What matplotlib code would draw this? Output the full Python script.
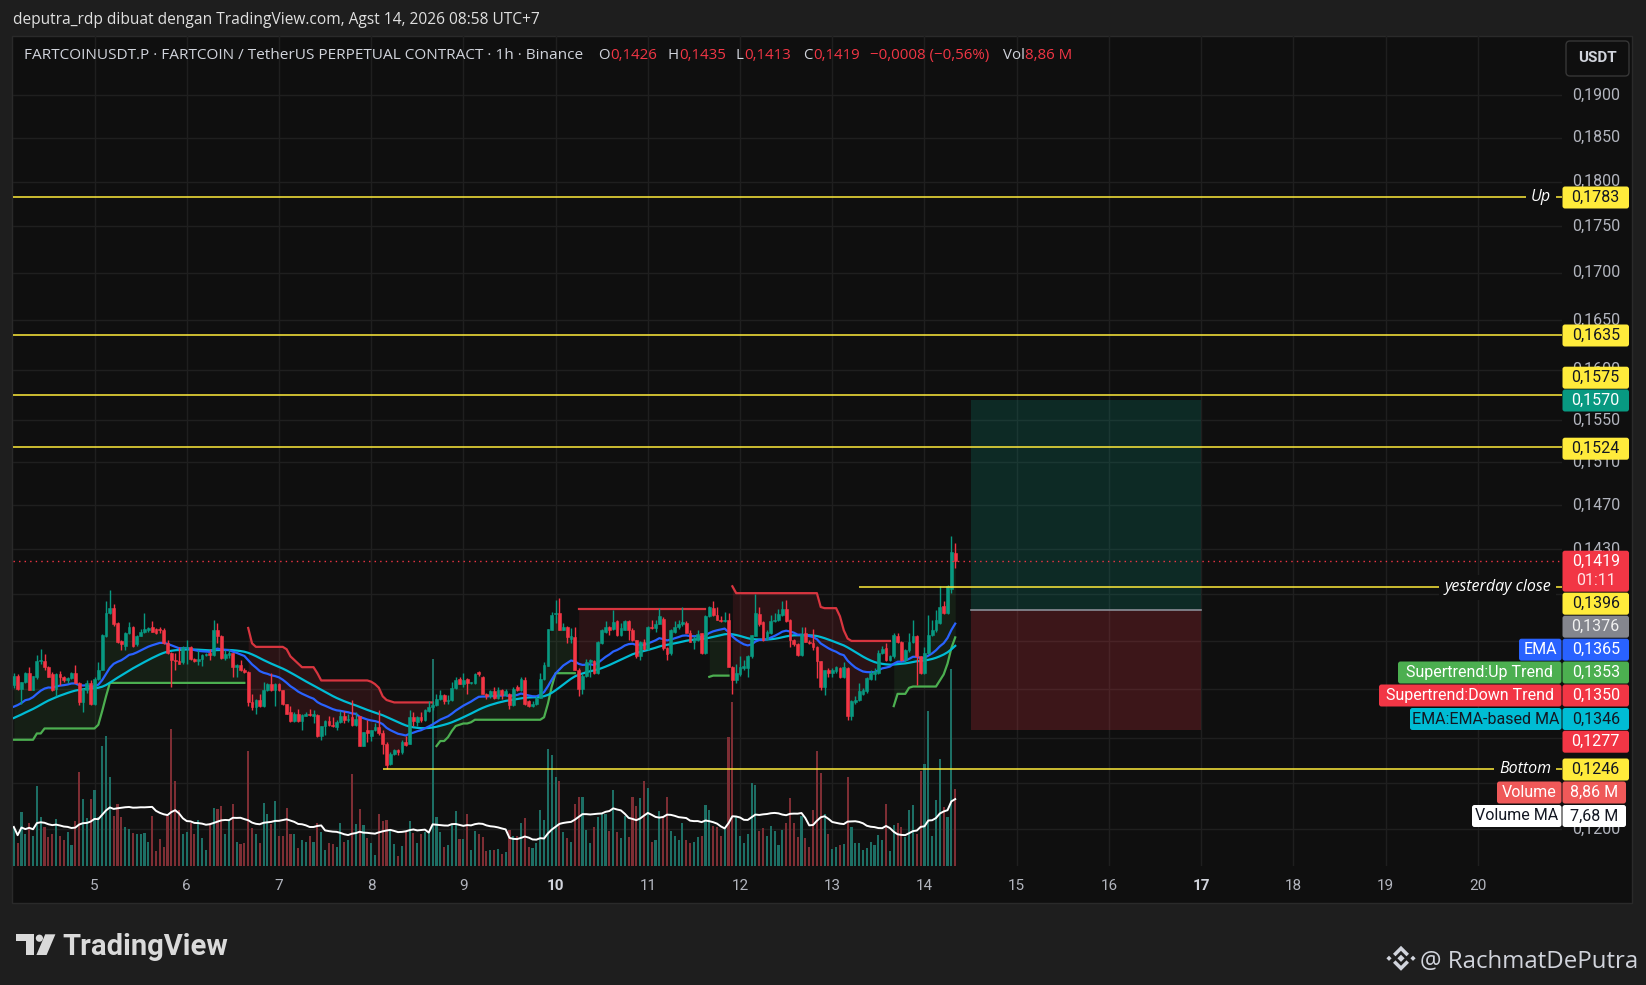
import numpy as np
import pandas as pd
import matplotlib
matplotlib.use("Agg")
import matplotlib.pyplot as plt
from matplotlib.patches import Rectangle, FancyBboxPatch, Polygon, Circle
from matplotlib.transforms import blended_transform_factory as blend

plt.rcParams['font.family'] = ['Roboto', 'DejaVu Sans']

# ---------------- data (1h bars, hours counted from Aug 5 00:00 UTC+7) ----------------
HOUR_START = -21
opens = [
    .1313, .1321, .1310, .1316, .1323, .1309, .1320, .1333, .1333, .1328, .1322, .1310,
    .1322, .1320, .1317, .1319, .1323, .1315, .1299, .1309, .1315, .1298, .1318, .1326,
    .1354, .1374, .1378, .1365, .1350, .1346, .1357, .1362, .1347, .1354, .1358, .1359,
    .1362, .1360, .1360, .1359, .1348, .1340, .1334, .1333, .1332, .1344, .1345, .1335,
    .1333, .1335, .1338, .1340, .1338, .1359, .1354, .1336, .1338, .1340, .1328, .1330,
    .1326, .1324, .1299, .1295, .1301, .1296, .1309, .1314, .1309, .1314, .1309, .1298,
    .1291, .1284, .1290, .1284, .1288, .1290, .1288, .1289, .1272, .1280, .1284, .1281,
    .1279, .1283, .1288, .1285, .1287, .1281, .1288, .1264, .1277, .1272, .1277, .1279,
    .1274, .1266, .1250, .1258, .1261, .1259, .1267, .1266, .1287, .1283, .1287, .1285,
    .1292, .1295, .1297, .1302, .1305, .1300, .1301, .1311, .1318, .1314, .1318, .1315,
    .1315, .1324, .1320, .1306, .1304, .1308, .1303, .1309, .1305, .1306, .1297, .1312,
    .1309, .1317, .1300, .1296, .1298, .1303, .1318, .1329, .1359, .1373, .1374, .1359,
    .1362, .1352, .1353, .1326, .1310, .1321, .1332, .1333, .1323, .1348, .1358, .1362,
    .1360, .1367, .1355, .1359, .1367, .1359, .1351, .1337, .1349, .1343, .1362, .1361,
    .1364, .1369, .1344, .1340, .1358, .1362, .1364, .1365, .1357, .1349, .1351, .1357,
    .1340, .1371, .1378, .1372, .1368, .1367, .1368, .1328, .1317, .1322, .1327, .1327,
    .1337, .1354, .1373, .1366, .1352, .1357, .1367, .1368, .1372, .1377, .1368, .1351,
    .1347, .1338, .1357, .1349, .1348, .1345, .1333, .1312, .1326, .1323, .1325, .1327,
    .1320, .1327, .1288, .1299, .1301, .1306, .1308, .1318, .1322, .1323, .1340, .1344,
    .1334, .1337, .1354, .1349, .1334, .1342, .1349, .1354, .1337, .1323, .1340, .1355,
    .1359, .1365, .1380, .1374, .1395, .1426,
]
highs = [
    .1323, .1322, .1316, .1324, .1328, .1321, .1338, .1343, .1339, .1329, .1324, .1323,
    .1325, .1321, .1320, .1324, .1330, .1316, .1311, .1317, .1317, .1320, .1332, .1356,
    .1384, .1394, .1382, .1366, .1351, .1358, .1366, .1363, .1355, .1360, .1374, .1362,
    .1367, .1361, .1362, .1361, .1351, .1341, .1340, .1345, .1346, .1351, .1346, .1336,
    .1342, .1339, .1340, .1343, .1368, .1365, .1355, .1342, .1343, .1340, .1331, .1334,
    .1327, .1325, .1306, .1302, .1306, .1316, .1315, .1323, .1315, .1315, .1309, .1298,
    .1296, .1291, .1294, .1290, .1291, .1294, .1293, .1290, .1280, .1285, .1288, .1287,
    .1285, .1292, .1292, .1290, .1301, .1291, .1288, .1275, .1285, .1277, .1282, .1293,
    .1277, .1267, .1259, .1262, .1262, .1269, .1272, .1293, .1291, .1288, .1291, .1294,
    .1300, .1300, .1306, .1309, .1306, .1305, .1316, .1320, .1320, .1323, .1319, .1316,
    .1323, .1325, .1321, .1307, .1309, .1312, .1312, .1310, .1310, .1307, .1312, .1313,
    .1320, .1320, .1301, .1300, .1304, .1323, .1332, .1360, .1375, .1385, .1387, .1365,
    .1363, .1361, .1362, .1327, .1322, .1335, .1335, .1334, .1350, .1360, .1367, .1363,
    .1376, .1368, .1365, .1368, .1368, .1361, .1351, .1350, .1352, .1363, .1368, .1368,
    .1378, .1370, .1345, .1360, .1367, .1368, .1379, .1367, .1359, .1354, .1359, .1357,
    .1372, .1380, .1384, .1379, .1371, .1375, .1374, .1329, .1331, .1337, .1334, .1338,
    .1355, .1390, .1379, .1367, .1359, .1372, .1374, .1377, .1384, .1385, .1369, .1352,
    .1348, .1362, .1362, .1351, .1360, .1346, .1333, .1326, .1327, .1327, .1329, .1328,
    .1332, .1328, .1301, .1304, .1315, .1311, .1320, .1326, .1327, .1342, .1346, .1348,
    .1338, .1357, .1357, .1350, .1343, .1357, .1368, .1355, .1337, .1345, .1372, .1368,
    .1376, .1397, .1384, .1398, .1442, .1435,
]
lows = [
    .1311, .1309, .1298, .1315, .1309, .1309, .1318, .1331, .1326, .1320, .1308, .1304,
    .1313, .1316, .1315, .1318, .1315, .1297, .1291, .1307, .1297, .1297, .1317, .1326,
    .1353, .1373, .1363, .1348, .1342, .1342, .1356, .1345, .1346, .1354, .1357, .1358,
    .1358, .1356, .1357, .1347, .1339, .1312, .1326, .1331, .1331, .1331, .1334, .1332,
    .1330, .1329, .1337, .1334, .1337, .1348, .1335, .1334, .1336, .1320, .1320, .1325,
    .1323, .1296, .1293, .1290, .1295, .1295, .1308, .1308, .1296, .1308, .1297, .1290,
    .1283, .1283, .1283, .1277, .1288, .1288, .1282, .1271, .1269, .1273, .1280, .1279,
    .1277, .1282, .1282, .1283, .1280, .1280, .1264, .1264, .1267, .1268, .1276, .1273,
    .1258, .1246, .1249, .1257, .1257, .1258, .1264, .1266, .1280, .1280, .1283, .1284,
    .1291, .1293, .1296, .1301, .1298, .1298, .1300, .1310, .1314, .1312, .1306, .1314,
    .1314, .1321, .1306, .1302, .1303, .1302, .1302, .1302, .1304, .1294, .1296, .1308,
    .1308, .1297, .1295, .1295, .1297, .1303, .1317, .1329, .1359, .1365, .1359, .1359,
    .1348, .1348, .1326, .1304, .1306, .1320, .1320, .1322, .1322, .1347, .1357, .1355,
    .1359, .1354, .1354, .1359, .1351, .1350, .1336, .1334, .1342, .1342, .1360, .1358,
    .1364, .1342, .1334, .1338, .1357, .1360, .1363, .1357, .1349, .1343, .1350, .1339,
    .1339, .1370, .1371, .1368, .1366, .1366, .1328, .1306, .1315, .1321, .1326, .1320,
    .1336, .1354, .1363, .1350, .1351, .1356, .1366, .1367, .1371, .1366, .1345, .1346,
    .1337, .1337, .1349, .1347, .1342, .1319, .1309, .1305, .1320, .1320, .1323, .1319,
    .1319, .1285, .1285, .1298, .1300, .1305, .1307, .1317, .1317, .1322, .1339, .1333,
    .1333, .1336, .1348, .1333, .1332, .1341, .1348, .1313, .1322, .1322, .1339, .1354,
    .1358, .1364, .1373, .1373, .1391, .1413,
]
closes = [
    .1321, .1310, .1316, .1323, .1309, .1321, .1333, .1334, .1328, .1320, .1309, .1322,
    .1320, .1317, .1319, .1323, .1315, .1299, .1310, .1315, .1298, .1318, .1326, .1355,
    .1374, .1378, .1364, .1349, .1347, .1357, .1362, .1346, .1354, .1358, .1360, .1361,
    .1358, .1357, .1359, .1348, .1340, .1334, .1333, .1331, .1345, .1345, .1335, .1333,
    .1335, .1338, .1339, .1338, .1359, .1354, .1336, .1339, .1340, .1328, .1330, .1326,
    .1324, .1299, .1295, .1301, .1296, .1309, .1314, .1309, .1314, .1309, .1298, .1290,
    .1284, .1290, .1284, .1289, .1290, .1289, .1290, .1272, .1280, .1284, .1281, .1280,
    .1283, .1288, .1285, .1286, .1281, .1286, .1264, .1275, .1274, .1277, .1279, .1274,
    .1266, .1249, .1258, .1261, .1259, .1267, .1265, .1287, .1284, .1287, .1285, .1293,
    .1295, .1297, .1302, .1305, .1300, .1301, .1311, .1317, .1314, .1317, .1315, .1316,
    .1322, .1322, .1306, .1304, .1308, .1303, .1309, .1305, .1308, .1297, .1310, .1309,
    .1318, .1298, .1296, .1298, .1303, .1318, .1330, .1360, .1372, .1374, .1359, .1362,
    .1353, .1354, .1326, .1310, .1321, .1332, .1334, .1323, .1349, .1359, .1362, .1359,
    .1366, .1355, .1361, .1367, .1359, .1351, .1337, .1349, .1343, .1362, .1361, .1364,
    .1371, .1344, .1339, .1359, .1362, .1364, .1366, .1357, .1349, .1352, .1356, .1340,
    .1371, .1379, .1372, .1368, .1367, .1368, .1328, .1317, .1323, .1328, .1329, .1337,
    .1355, .1374, .1364, .1351, .1358, .1367, .1368, .1373, .1377, .1367, .1351, .1347,
    .1338, .1356, .1349, .1348, .1345, .1333, .1312, .1326, .1323, .1326, .1328, .1320,
    .1328, .1288, .1300, .1301, .1308, .1309, .1319, .1323, .1325, .1340, .1343, .1334,
    .1337, .1355, .1349, .1334, .1342, .1349, .1354, .1337, .1323, .1340, .1355, .1359,
    .1368, .1379, .1374, .1397, .1427, .1419,
]
volumes_m = [
    4.5, 2.6, 6.2, 3.7, 5.0, 3.4, 9.2, 5.7, 4.5, 3.3, 3.7, 5.4,
    3.5, 3.0, 3.9, 2.4, 5.2, 10.8, 7.7, 5.5, 7.7, 8.7, 5.7, 13.8,
    15.0, 10.2, 5.8, 7.2, 5.7, 4.5, 4.3, 3.8, 3.7, 3.7, 3.8, 2.8,
    5.8, 1.7, 3.1, 2.2, 5.8, 15.8, 9.8, 6.5, 3.7, 3.9, 5.0, 3.7,
    5.3, 3.2, 1.8, 4.9, 6.7, 6.6, 6.9, 3.7, 5.3, 7.2, 2.8, 2.5,
    2.7, 13.2, 4.4, 3.7, 2.7, 7.3, 6.0, 4.8, 7.5, 3.4, 3.5, 6.7,
    3.7, 3.7, 2.1, 3.0, 2.8, 3.4, 2.8, 4.9, 3.9, 1.8, 2.7, 2.5,
    2.2, 4.9, 2.8, 3.0, 10.6, 4.8, 6.6, 4.7, 3.2, 2.6, 1.3, 6.0,
    5.2, 5.3, 4.2, 2.5, 1.2, 2.3, 4.0, 5.2, 3.8, 2.7, 3.7, 3.9,
    3.8, 23.8, 5.7, 3.9, 2.2, 2.4, 4.7, 6.3, 3.1, 3.1, 6.0, 1.8,
    4.0, 3.7, 3.3, 1.7, 1.8, 1.8, 2.0, 1.4, 1.6, 4.2, 3.5, 3.5,
    4.9, 5.5, 2.2, 2.1, 2.6, 6.5, 5.3, 13.5, 12.8, 10.3, 9.8, 3.9,
    3.2, 2.8, 7.1, 7.9, 7.9, 4.2, 2.7, 4.5, 5.7, 6.0, 6.0, 4.0,
    8.7, 3.9, 3.2, 5.8, 3.3, 7.9, 6.9, 7.8, 9.8, 9.0, 2.8, 3.0,
    6.3, 5.7, 8.0, 4.0, 3.5, 3.0, 4.9, 3.0, 2.7, 2.8, 3.3, 3.4,
    7.0, 6.4, 4.6, 4.5, 3.4, 4.3, 14.9, 18.9, 5.7, 3.5, 2.6, 3.7,
    9.6, 9.3, 4.0, 4.4, 3.5, 4.6, 4.0, 2.4, 4.2, 4.9, 7.8, 5.0,
    3.3, 5.8, 3.2, 2.2, 6.5, 13.2, 10.7, 6.0, 3.7, 2.0, 2.2, 2.4,
    2.5, 10.3, 4.5, 2.7, 2.6, 1.8, 2.1, 2.8, 2.4, 3.6, 3.0, 7.2,
    1.7, 4.7, 4.9, 4.5, 3.3, 6.4, 7.0, 3.7, 10.9, 11.7, 17.8, 3.4,
    7.6, 12.3, 6.8, 5.7, 22.7, 8.86,
]

# Supertrend: (direction, first hour, per-bar values)
supertrend_segments = [
    ('up', -21, [.1269] * 6 + [.1274] * 2 + [.1278] * 14 + [.1281, .1292, .1304] + [.1315] * 36),
    ('dn', 40, [.1361, .1348] + [.1345] * 8 + [.1343, .1337, .1334, .1331] + [.1328] * 4 + [.1323]
     + [.1317] * 13 + [.1316, .1314, .1311, .1304, .1301, .1300] + [.1299] * 11),
    ('up', 89, [.1264, .1268, .1268, .1271, .1276, .1280, .1281, .1282, .1282, .1283] + [.1285] * 18
     + [.1287, .1298, .1312] + [.1323] * 6),
    ('dn', 126, [.1377] * 34),
    ('up', 160, [.1320] + [.1321] * 5),
    ('dn', 166, [.1397] + [.1391] * 22 + [.1379] + [.1378] * 4 + [.1371, .1359, .1352] + [.1350] * 11),
    ('up', 208, [.1296, .1306, .1306, .1306, .1311] + [.1312] * 7 + [.1317, .1322, .1331, .1344, .1353]),
]

day_numbers = list(range(5, 21))
bold_days = [10, 17]
grid_prices = [0.1900, 0.1850, 0.1800, 0.1750, 0.1700, 0.1650, 0.1600, 0.1550, 0.1510,
               0.1470, 0.1430, 0.1390, 0.1350, 0.1310, 0.1270, 0.1235, 0.1200]
labelled_prices = [0.1900, 0.1850, 0.1800, 0.1750, 0.1700, 0.1650, 0.1600, 0.1550, 0.1510,
                   0.1470, 0.1430, 0.1200]

level_up = 0.1783
levels_plain = [0.1635, 0.1575, 0.1524]
yesterday_close = 0.1396
bottom_level = 0.1246
pos_entry, pos_target, pos_stop = 0.1376, 0.1570, 0.1277
pos_start_h, pos_end_h = 228, 288
ycl_start_h = 199
bottom_start_h = 75

EMA_LEN, EMA_MA_LEN = 21, 14
ema_seed, ema_ma_seed = 0.1293, 0.1285

indicator_tags = [("EMA", "0,1365"), ("Supertrend:Up Trend", "0,1353"),
                  ("Supertrend:Down Trend", "0,1350"), ("EMA:EMA-based MA", "0,1346")]
volume_ma_tag = "7,68 M"
countdown = "01:11"

# ---------------- series ----------------
o = np.array(opens); h = np.array(highs); l = np.array(lows); c = np.array(closes)
vol = np.array(volumes_m)
hours = np.arange(HOUR_START, HOUR_START + len(c))
assert len(o) == len(h) == len(l) == len(c) == len(vol)


def ema(values, length, seed):
    a = 2.0 / (length + 1)
    out, prev = [], seed
    for v in values:
        prev = prev + a * (v - prev)
        out.append(prev)
    return np.array(out)


ema_line = ema(c, EMA_LEN, ema_seed)
ema_ma = ema(ema_line, EMA_MA_LEN, ema_ma_seed)
vol_ma = pd.Series(vol).rolling(20, min_periods=1).mean().values
body_mid = (o + c) / 2

# ---------------- layout ----------------
W, H = 1646, 985
PX_L, PX_R, PX_T, PX_B = 13, 1562, 36, 866
X0_PX, PX_PER_H = 94.5, 3.8425
REF_Y, REF_P, PX_PER_LN = 549.0, 0.143, 1597.0
VOL_PX_PER_M = 8.68

BG_OUT, BG = '#1e1e1e', '#0f0f0f'
GRID = '#1f1f1f'
GREEN, RED = '#089981', '#f23645'
YEL = '#ffeb3b'
TXT = '#d1d4dc'
AXT = '#b2b5be'
DARK = '#131722'
HDR = ['Open Sans', 'DejaVu Sans']

fig = plt.figure(figsize=(W / 100, H / 100), dpi=100, facecolor=BG_OUT)


def pix_axes(z):
    a = fig.add_axes([0, 0, 1, 1], zorder=z)
    a.set_xlim(0, W); a.set_ylim(H, 0); a.axis('off')
    a.patch.set_visible(False)
    return a


bg = pix_axes(0)
bg.add_patch(Rectangle((12.5, 35.5), 1620, 867.5, facecolor=BG, edgecolor='#2a2a2a', lw=1))

rect = [PX_L / W, 1 - PX_B / H, (PX_R - PX_L) / W, (PX_B - PX_T) / H]
xlim = ((PX_L - X0_PX) / PX_PER_H, (PX_R - X0_PX) / PX_PER_H)
p_top = REF_P * np.exp((REF_Y - PX_T) / PX_PER_LN)
p_bot = REF_P * np.exp(-(PX_B - REF_Y) / PX_PER_LN)

vax = fig.add_axes(rect, zorder=1)
vax.set_xlim(*xlim); vax.set_ylim(0, (PX_B - PX_T) / VOL_PX_PER_M)
vax.axis('off'); vax.patch.set_visible(False)

ax = fig.add_axes(rect, zorder=2)
ax.set_yscale('log')
ax.set_xlim(*xlim); ax.set_ylim(p_bot, p_top)
ax.axis('off'); ax.patch.set_visible(False)

# grid
day_hours = [(d - 5) * 24 for d in day_numbers]
for dh in day_hours:
    vax.axvline(dh, color=GRID, lw=1, zorder=0)
gtr = blend(vax.transAxes, ax.transData)
for p in grid_prices:
    vax.plot([0, 1], [p, p], color=GRID, lw=1, transform=gtr, zorder=0)

# volume
up = c >= o
vcol = np.where(up, '#1d6f65', '#7e2e34')
vax.bar(hours, vol, width=0.55, color=vcol, zorder=1)
vax.plot(hours, vol_ma, color='white', lw=1.4, zorder=2)

# long position box
ax.add_patch(Rectangle((pos_start_h, pos_entry), pos_end_h - pos_start_h, pos_target - pos_entry,
                       facecolor=(8 / 255, 153 / 255, 129 / 255, 0.2), edgecolor='none', zorder=1))
ax.add_patch(Rectangle((pos_start_h, pos_stop), pos_end_h - pos_start_h, pos_entry - pos_stop,
                       facecolor=(242 / 255, 54 / 255, 69 / 255, 0.2), edgecolor='none', zorder=1))
ax.plot([pos_start_h, pos_end_h], [pos_entry, pos_entry], color='#8a8d96', lw=1.2, zorder=2)

# supertrend (lines + fill to candle body middle)
for direction, start, vals in supertrend_segments:
    seg_h = np.arange(start, start + len(vals))
    idx = seg_h - HOUR_START
    lc = '#4caf50' if direction == 'up' else '#d8353f'
    fc = '#4caf50' if direction == 'up' else RED
    ax.fill_between(seg_h, body_mid[idx], vals, color=fc, alpha=0.1 if direction == 'up' else 0.12,
                    lw=0, zorder=2)
    ax.plot(seg_h, vals, color=lc, lw=1.6, zorder=3)

# EMA
ax.plot(hours, ema_ma, color='#00bcd4', lw=1.6, zorder=4)
ax.plot(hours, ema_line, color='#2962ff', lw=1.6, zorder=4)

# candles
ccol = np.where(up, GREEN, RED)
ax.vlines(hours, l, h, colors=ccol, lw=1, zorder=5)
ax.bar(hours, np.abs(c - o), bottom=np.minimum(o, c), width=0.72, color=ccol,
       edgecolor=ccol, lw=0.4, zorder=6)

# levels
ax.axhline(level_up, color=YEL, lw=1.1, zorder=7)
for lv in levels_plain:
    ax.axhline(lv, color=YEL, lw=1.1, zorder=7)
ax.hlines(yesterday_close, ycl_start_h, xlim[1], color=YEL, lw=1.1, zorder=7)
ax.hlines(bottom_level, bottom_start_h, xlim[1], color=YEL, lw=1.1, zorder=7)
ax.axhline(c[-1], color=RED, lw=1, ls=(0, (1, 3)), zorder=7)

rtr = blend(ax.transAxes, ax.transData)
xr = (1551 - PX_L) / (PX_R - PX_L)
for lv, name in [(level_up, 'Up'), (yesterday_close, 'yesterday close'), (bottom_level, 'Bottom')]:
    ax.text(xr, lv, name, transform=rtr, ha='right', va='center', color='white', fontsize=11.5,
            style='italic', family=HDR, zorder=8,
            bbox=dict(boxstyle='square,pad=0.3', fc=BG, ec='none'))

# y tick labels
ytr = blend(fig.transFigure, ax.transData)
for p in labelled_prices:
    ax.text(1596 / W, p, f"{p:.4f}".replace('.', ','), transform=ytr, ha='center', va='center',
            color=AXT, fontsize=11.5, clip_on=False)

# x tick labels
xtr = blend(ax.transData, fig.transFigure)
for d, dh in zip(day_numbers, day_hours):
    b = d in bold_days
    ax.text(dh, 1 - 886 / H, str(d), transform=xtr, ha='center', va='center',
            color=TXT if b else AXT, fontsize=11, fontweight='bold' if b else 'normal', clip_on=False)

# ---------------- overlay: tags, header, footer ----------------
ov = pix_axes(3)


def box(x0, x1, y0, y1, fc, r=2.5):
    ov.add_patch(FancyBboxPatch((x0, y0), x1 - x0, y1 - y0,
                                boxstyle=f'round,pad=0,rounding_size={r}', fc=fc, ec='none'))


def fmt(p):
    return f"{p:.4f}".replace('.', ',')


def tag(yc, fc, txt, tc, x0=1562.5, x1=1629, hgt=22):
    box(x0, x1, yc - hgt / 2, yc + hgt / 2, fc)
    ov.text((x0 + x1) / 2, yc, txt, color=tc, fontsize=11.5, ha='center', va='center')


tag(197.5, YEL, fmt(level_up), DARK)
tag(335.5, YEL, fmt(levels_plain[0]), DARK)
tag(377.7, YEL, fmt(levels_plain[1]), DARK)
tag(400.5, GREEN, fmt(pos_target), 'white')
tag(448.7, YEL, fmt(levels_plain[2]), DARK)
box(1562.5, 1629, 550.7, 591.7, RED)
ov.text(1595.7, 561.3, fmt(c[-1]), color='white', fontsize=11.5, ha='center', va='center')
ov.text(1595.7, 580.5, countdown, color='#ffe3e5', fontsize=11.5, ha='center', va='center')
tag(603.7, YEL, fmt(yesterday_close), DARK)
tag(626.7, '#84868e', fmt(pos_entry), '#f0f0f0')
ind_style = [(649.7, '#2962ff', 'white', 1519), (672.5, '#4caf50', 'white', 1398),
             (695.5, RED, 'white', 1379), (719.0, '#00bcd4', DARK, 1410)]
for (name, val), (yc, fc, tc, xn) in zip(indicator_tags, ind_style):
    tag(yc, fc, name, tc, x0=xn, x1=1561.5)
    tag(yc, fc, val, tc)
tag(741.7, RED, fmt(pos_stop), 'white')
tag(769.5, YEL, fmt(bottom_level), DARK)
vol_txt = f"{vol[-1]:.2f}".replace('.', ',') + " M"
tag(792.5, '#ef5959', 'Volume', 'white', x0=1497, x1=1561.5)
tag(792.5, '#ef5959', vol_txt, 'white', x1=1626)
tag(816.0, 'white', 'Volume MA', DARK, x0=1472, x1=1561.5)
tag(816.0, 'white', volume_ma_tag, DARK, x1=1626)

# USDT button
ov.add_patch(FancyBboxPatch((1566, 41), 63, 35, boxstyle='round,pad=0,rounding_size=4',
                            fc=BG, ec='#363636', lw=1))
ov.text(1597.5, 58.5, 'USDT', color=TXT, fontsize=11, fontweight='bold', ha='center', va='center')

# header
ov.text(13.5, 20, 'deputra_rdp dibuat dengan TradingView.com, Agst 14, 2026 08:58 UTC+7',
        color='#e0e0e0', fontsize=11.2, ha='left', va='center', family=HDR)
ov.text(24.5, 55.6, 'FARTCOINUSDT.P · FARTCOIN / TetherUS PERPETUAL CONTRACT · 1h · Binance',
        color=TXT, fontsize=11.1, ha='left', va='center', family=HDR)
renderer = fig.canvas.get_renderer()
vcolor = RED if c[-1] < o[-1] else GREEN


def pair(x, a, b):
    t = ov.text(x, 55.6, a, color=TXT, fontsize=10.8, ha='left', va='center', family=HDR)
    w = t.get_window_extent(renderer=renderer).width
    ov.text(x + w + 0.5, 55.6, b, color=vcolor, fontsize=10.8, ha='left', va='center', family=HDR)


pair(598, 'O', fmt(o[-1]))
pair(668, 'H', fmt(h[-1]))
pair(736, 'L', fmt(l[-1]))
pair(803, 'C', fmt(c[-1]))
chg = c[-1] - c[-2]
pct = chg / c[-2] * 100
chg_txt = (f"{chg:+.4f} ({pct:+.2f}%)").replace('.', ',').replace('-', '\u2212').replace('+', '')
ov.text(870, 55.6, chg_txt, color=vcolor, fontsize=10.8, ha='left', va='center', family=HDR)
pair(1003, 'Vol', vol_txt)

# footer: TradingView logo
LOGO = '#dadada'
ov.add_patch(Rectangle((16, 934.3), 18, 6.8, fc=LOGO, ec='none'))
ov.add_patch(Rectangle((25.8, 934.3), 8.2, 20.7, fc=LOGO, ec='none'))
ov.add_patch(Circle((39.4, 938.2), 3.6, fc=LOGO, ec='none'))
ov.add_patch(Polygon([(45.2, 934.3), (55.4, 934.3), (46.6, 955), (36.4, 955)], closed=True, fc=LOGO, ec='none'))
ov.text(62, 955, 'TradingView', color=LOGO, fontsize=21, fontweight='bold', ha='left', va='baseline')

# footer: binance-like mark + author
cx, cy = 1401, 958.3
shapes = [
    [(0, -3.6), (3.6, 0), (0, 3.6), (-3.6, 0)],
    [(-12, -2.6), (-9.4, 0), (-12, 2.6), (-14.6, 0)],
    [(12, -2.6), (14.6, 0), (12, 2.6), (9.4, 0)],
    [(0, -12.5), (8, -4.5), (5.5, -2), (0, -7.5), (-5.5, -2), (-8, -4.5)],
    [(0, 12.5), (8, 4.5), (5.5, 2), (0, 7.5), (-5.5, 2), (-8, 4.5)],
]
for s in shapes:
    ov.add_patch(Polygon([(cx + dx, cy + dy) for dx, dy in s], closed=True, fc=TXT, ec='none'))
ov.text(1638, 967.5, '@ RachmatDePutra', color=TXT, fontsize=17.3, ha='right', va='baseline',
        family=HDR)

fig.savefig('out.png', dpi=100, facecolor=BG_OUT)
